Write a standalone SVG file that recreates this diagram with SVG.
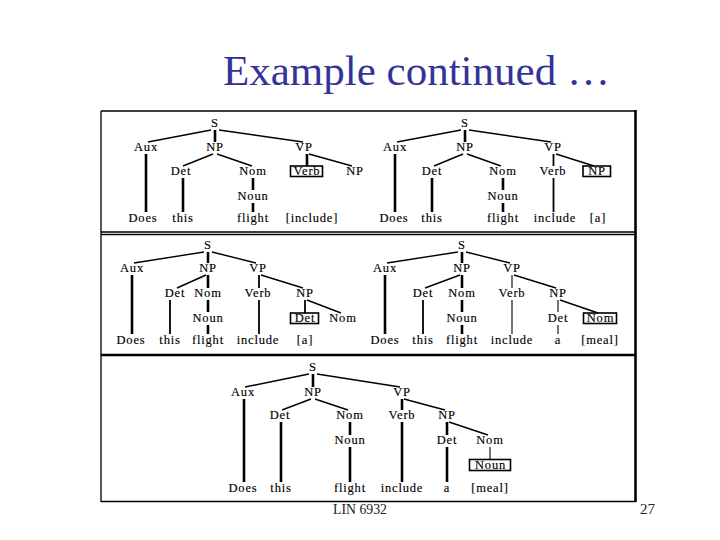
<svg xmlns="http://www.w3.org/2000/svg" width="720" height="540" viewBox="0 0 720 540">
<style>
.t{font-family:"Liberation Serif","Times New Roman",serif;font-size:12.5px;letter-spacing:0.8px;text-anchor:middle;fill:#000;stroke:#000;stroke-width:0.15}
.bx{fill:none;stroke:#000;stroke-width:1.6}
.e path{fill:none;stroke:#000;stroke-width:1.4}
.e .k{stroke-width:2.6}
.e .m{stroke-width:1.8}
.e .n{stroke-width:1.1}
.fr{stroke:#000;fill:none}
</style>
<rect width="720" height="540" fill="#fff"/>
<text x="223" y="85" font-family="Liberation Serif,'Times New Roman',serif" font-size="43" fill="#333399">Example continued …</text>

<g id="frame">
<path class="fr" stroke-width="1.3" d="M101,111 H636 M101,111 V502 M101,501.5 H636"/>
<path class="fr" stroke-width="2.6" d="M635.5,110 V502"/>
<path class="fr" stroke-width="1.3" d="M101,232 H636 M101,234.5 H636"/>
<path class="fr" stroke-width="2.6" d="M101,355 H636"/>
</g>

<!-- connectors -->
<g id="connectors" class="e">
<!-- tree 1 -->
<path d="M211,130 L148,142"/>
<path class="k" d="M215,130 V142"/>
<path d="M219,130 L303,142"/>
<path class="k" d="M146,154 V212"/>
<path d="M213,154 L183,166"/>
<path d="M217,154 L252,166"/>
<path class="k" d="M183,178 V212"/>
<path class="k" d="M253,178 V190"/>
<path class="k" d="M253,203 V212"/>
<path class="k" d="M307,154 V166"/>
<path d="M309,154 L352,166"/>
<!-- tree 2 -->
<path d="M461,130 L397,142"/>
<path class="k" d="M465,130 V142"/>
<path d="M469,130 L551,142"/>
<path class="k" d="M395,154 V212"/>
<path d="M463,154 L434,166"/>
<path d="M467,154 L501,166"/>
<path class="k" d="M432,178 V212"/>
<path class="k" d="M503,178 V190"/>
<path class="k" d="M503,203 V212"/>
<path class="m" d="M553.5,154 V166"/>
<path class="m" d="M553.5,178 V212"/>
<path d="M556,154 L594,166"/>
<!-- tree 3 -->
<path d="M204,252 L134,263"/>
<path class="k" d="M208,252 V263"/>
<path d="M212,252 L256,263"/>
<path class="k" d="M132,275 V334"/>
<path d="M206,275 L177,288"/>
<path class="k" d="M208,275 V288"/>
<path class="m" d="M170,300 V334"/>
<path class="k" d="M208,300 V312"/>
<path class="k" d="M208,325 V334"/>
<path class="m" d="M259,275 V288"/>
<path class="m" d="M259,300 V334"/>
<path d="M261,275 L303,288"/>
<path class="m" d="M305,300 V313"/>
<path d="M307,300 L341,313"/>
<!-- tree 4 -->
<path d="M458,252 L387,263"/>
<path class="k" d="M462,252 V263"/>
<path d="M466,252 L510,263"/>
<path class="k" d="M385,275 V334"/>
<path d="M460,275 L425,288"/>
<path class="k" d="M462,275 V288"/>
<path class="m" d="M423,300 V334"/>
<path class="k" d="M462,300 V312"/>
<path class="k" d="M462,325 V334"/>
<path class="n" d="M512,275 V288"/>
<path class="n" d="M512,300 V334"/>
<path d="M514,275 L556,288"/>
<path class="n" d="M558,300 V312"/>
<path class="n" d="M558,325 V334"/>
<path d="M560,300 L598,313"/>
<!-- tree 5 -->
<path d="M309,374 L245,387"/>
<path class="k" d="M313,374 V387"/>
<path d="M317,374 L400,387"/>
<path class="k" d="M244,399 V482"/>
<path d="M311,399 L282,410"/>
<path d="M315,399 L348,410"/>
<path class="k" d="M281,422 V482"/>
<path class="k" d="M350,422 V435"/>
<path class="k" d="M350,447 V482"/>
<path class="k" d="M402,399 V410"/>
<path class="k" d="M402,422 V482"/>
<path d="M404,399 L445,410"/>
<path class="k" d="M447,422 V435"/>
<path class="k" d="M447,447 V482"/>
<path d="M449,422 L488,435"/>
<path class="n" d="M490,447 V459.5"/>
</g>

<!-- tree 1 nodes -->
<g id="t1-S"><text class="t" x="215" y="127">S</text></g>
<g id="t1-Aux"><text class="t" x="146" y="151">Aux</text></g>
<g id="t1-NP"><text class="t" x="215" y="151">NP</text></g>
<g id="t1-VP"><text class="t" x="304" y="151">VP</text></g>
<g id="t1-Det"><text class="t" x="181" y="175">Det</text></g>
<g id="t1-Nom"><text class="t" x="253" y="175">Nom</text></g>
<g id="t1-Verb"><rect class="bx" x="290.5" y="166" width="32" height="10.5"/><text class="t" x="307" y="175">Verb</text></g>
<g id="t1-NP2"><text class="t" x="355" y="175">NP</text></g>
<g id="t1-Noun"><text class="t" x="253" y="200">Noun</text></g>
<g id="t1-Does"><text class="t" x="143" y="222">Does</text></g>
<g id="t1-this"><text class="t" x="183" y="222">this</text></g>
<g id="t1-flight"><text class="t" x="253" y="222">flight</text></g>
<g id="t1-include"><text class="t" x="312" y="222">[include]</text></g>

<!-- tree 2 nodes -->
<g id="t2-S"><text class="t" x="465" y="127">S</text></g>
<g id="t2-Aux"><text class="t" x="395" y="151">Aux</text></g>
<g id="t2-NP"><text class="t" x="465" y="151">NP</text></g>
<g id="t2-VP"><text class="t" x="553" y="151">VP</text></g>
<g id="t2-Det"><text class="t" x="432" y="175">Det</text></g>
<g id="t2-Nom"><text class="t" x="503" y="175">Nom</text></g>
<g id="t2-Verb"><text class="t" x="553" y="175">Verb</text></g>
<g id="t2-NP2"><rect class="bx" x="583" y="166" width="27.5" height="10.5"/><text class="t" x="597" y="175">NP</text></g>
<g id="t2-Noun"><text class="t" x="503" y="200">Noun</text></g>
<g id="t2-Does"><text class="t" x="394" y="222">Does</text></g>
<g id="t2-this"><text class="t" x="432" y="222">this</text></g>
<g id="t2-flight"><text class="t" x="503" y="222">flight</text></g>
<g id="t2-include"><text class="t" x="555" y="222">include</text></g>
<g id="t2-a"><text class="t" x="598" y="222">[a]</text></g>

<!-- tree 3 nodes -->
<g id="t3-S"><text class="t" x="208" y="249">S</text></g>
<g id="t3-Aux"><text class="t" x="132" y="272">Aux</text></g>
<g id="t3-NP"><text class="t" x="208" y="272">NP</text></g>
<g id="t3-VP"><text class="t" x="258" y="272">VP</text></g>
<g id="t3-Det"><text class="t" x="175" y="297">Det</text></g>
<g id="t3-Nom"><text class="t" x="208" y="297">Nom</text></g>
<g id="t3-Verb"><text class="t" x="258" y="297">Verb</text></g>
<g id="t3-NP2"><text class="t" x="305" y="297">NP</text></g>
<g id="t3-Noun"><text class="t" x="208" y="322">Noun</text></g>
<g id="t3-Det2"><rect class="bx" x="290.5" y="313" width="28" height="10.5"/><text class="t" x="305" y="322">Det</text></g>
<g id="t3-Nom2"><text class="t" x="343" y="322">Nom</text></g>
<g id="t3-Does"><text class="t" x="131" y="344">Does</text></g>
<g id="t3-this"><text class="t" x="170" y="344">this</text></g>
<g id="t3-flight"><text class="t" x="208" y="344">flight</text></g>
<g id="t3-include"><text class="t" x="258" y="344">include</text></g>
<g id="t3-a"><text class="t" x="305" y="344">[a]</text></g>

<!-- tree 4 nodes -->
<g id="t4-S"><text class="t" x="462" y="249">S</text></g>
<g id="t4-Aux"><text class="t" x="385" y="272">Aux</text></g>
<g id="t4-NP"><text class="t" x="462" y="272">NP</text></g>
<g id="t4-VP"><text class="t" x="512" y="272">VP</text></g>
<g id="t4-Det"><text class="t" x="423" y="297">Det</text></g>
<g id="t4-Nom"><text class="t" x="462" y="297">Nom</text></g>
<g id="t4-Verb"><text class="t" x="512" y="297">Verb</text></g>
<g id="t4-NP2"><text class="t" x="558" y="297">NP</text></g>
<g id="t4-Noun"><text class="t" x="462" y="322">Noun</text></g>
<g id="t4-Det2"><text class="t" x="558" y="322">Det</text></g>
<g id="t4-Nom2"><rect class="bx" x="583.5" y="313" width="33" height="10.5"/><text class="t" x="600.5" y="322">Nom</text></g>
<g id="t4-Does"><text class="t" x="385" y="344">Does</text></g>
<g id="t4-this"><text class="t" x="423" y="344">this</text></g>
<g id="t4-flight"><text class="t" x="462" y="344">flight</text></g>
<g id="t4-include"><text class="t" x="512" y="344">include</text></g>
<g id="t4-a"><text class="t" x="558" y="344">a</text></g>
<g id="t4-meal"><text class="t" x="600" y="344">[meal]</text></g>

<!-- tree 5 nodes -->
<g id="t5-S"><text class="t" x="313" y="371">S</text></g>
<g id="t5-Aux"><text class="t" x="243" y="396">Aux</text></g>
<g id="t5-NP"><text class="t" x="313" y="396">NP</text></g>
<g id="t5-VP"><text class="t" x="402" y="396">VP</text></g>
<g id="t5-Det"><text class="t" x="280" y="419">Det</text></g>
<g id="t5-Nom"><text class="t" x="350" y="419">Nom</text></g>
<g id="t5-Verb"><text class="t" x="402" y="419">Verb</text></g>
<g id="t5-NP2"><text class="t" x="447" y="419">NP</text></g>
<g id="t5-Noun"><text class="t" x="350" y="444">Noun</text></g>
<g id="t5-Det2"><text class="t" x="447" y="444">Det</text></g>
<g id="t5-Nom2"><text class="t" x="490" y="444">Nom</text></g>
<g id="t5-Noun2"><rect class="bx" x="469.5" y="459.5" width="41" height="11"/><text class="t" x="490.5" y="469">Noun</text></g>
<g id="t5-Does"><text class="t" x="243" y="492">Does</text></g>
<g id="t5-this"><text class="t" x="281" y="492">this</text></g>
<g id="t5-flight"><text class="t" x="350" y="492">flight</text></g>
<g id="t5-include"><text class="t" x="402" y="492">include</text></g>
<g id="t5-a"><text class="t" x="447" y="492">a</text></g>
<g id="t5-meal"><text class="t" x="490" y="492">[meal]</text></g>

<text x="333" y="514" font-family="Liberation Serif,'Times New Roman',serif" font-size="15" textLength="54" lengthAdjust="spacingAndGlyphs" fill="#222">LIN 6932</text>
<text x="640" y="514" font-family="Liberation Serif,'Times New Roman',serif" font-size="15" fill="#222">27</text>
</svg>
